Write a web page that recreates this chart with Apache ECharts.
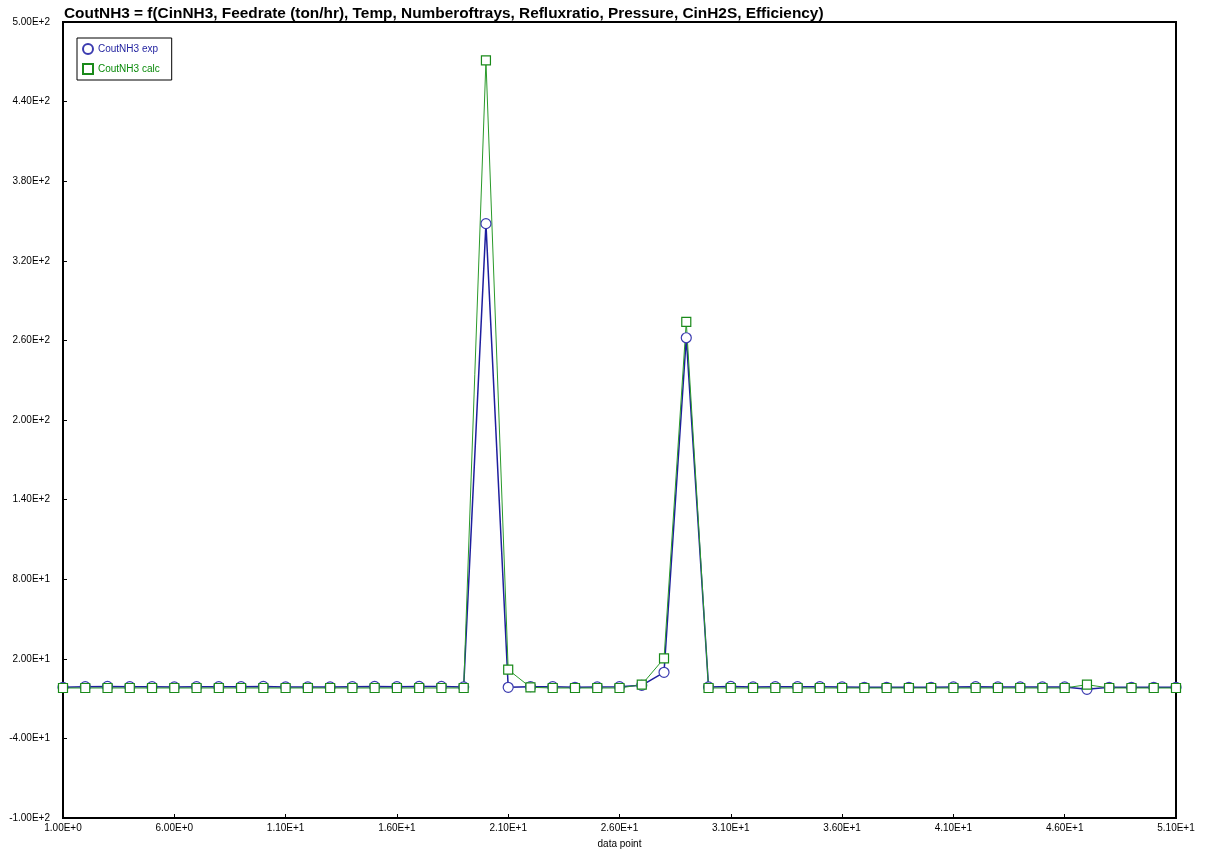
<!DOCTYPE html>
<html>
<head>
<meta charset="UTF-8">
<title>CoutNH3</title>
<script src="https://cdn.jsdelivr.net/npm/echarts@6/dist/echarts.min.js"></script>
<style>
  html, body { margin: 0; padding: 0; background: #fff; }
  #chart { width: 1209px; height: 854px; }
</style>
</head>
<body>
<div id="chart"></div>
<script>
// data point index 1..51
var points = [1,2,3,4,5,6,7,8,9,10,11,12,13,14,15,16,17,18,19,20,21,22,23,24,25,26,
  27,28,29,30,31,32,33,34,35,36,37,38,39,40,41,42,43,44,45,46,47,48,49,50,51];

var expVals = [-1.5,-1.0,-0.8,-1.0,-1.0,-1.2,-1.0,-1.0,-1.0,-0.8,-1.2,-1.2,-1.2,-1.0,-0.8,-1.0,-0.8,-0.8,-1.2,348,
  -1.5,-1.0,-1.0,-1.5,-1.2,-1.0,0.0,9.8,262,-1.2,-0.8,-1.2,-1.0,-1.0,-1.0,-1.2,-1.5,-1.5,-1.5,-1.5,-1.2,
  -1.0,-1.2,-1.2,-1.2,-1.2,-3.0,-1.5,-1.5,-1.5,-1.5];

var calcVals = [-2,-2,-2,-2,-2,-2,-2,-2,-2,-2,-2,-2,-2,-2,-2,-2,-2,-2,-2,471,
  11.8,-1.5,-2,-2,-2,-2,0.5,20.3,274,-2,-2,-2,-2,-2,-2,-2,-2,-2,-2,-2,-2,
  -2,-2,-2,-2,-2,0.5,-2,-2,-2,-2];

var xTicks = {min: 1, max: 51, step: 5};
var yTicks = {min: -100, max: 500, step: 60};

function sci(v){
  return v.toExponential(2).toUpperCase();
}

var chart = echarts.init(document.getElementById('chart'));
var option = {
  backgroundColor: '#fff',
  animation: false,
  title: {
    text: 'CoutNH3 = f(CinNH3, Feedrate (ton/hr), Temp, Numberoftrays, Refluxratio, Pressure, CinH2S, Efficiency)',
    left: 59,
    top: 1,
    textStyle: {fontFamily: 'Liberation Sans', fontSize: 15.4, fontWeight: 'bold', color: '#000'}
  },
  legend: {
    orient: 'vertical',
    left: 77,
    top: 38,
    padding: [5, 12, 5, 5],
    itemGap: 8,
    itemWidth: 10,
    itemHeight: 10,
    borderColor: '#000',
    borderWidth: 1,
    backgroundColor: '#fff',
    textStyle: {fontFamily: 'Liberation Sans', fontSize: 10},
    data: [
      {name: 'CoutNH3 exp', icon: 'circle', textStyle: {color: '#1e1e9e'}},
      {name: 'CoutNH3 calc', icon: 'rect', textStyle: {color: '#0a8a0a'}}
    ]
  },
  grid: {
    left: 63, right: 33, top: 22, bottom: 33,
    show: true,
    borderColor: '#000',
    borderWidth: 2
  },
  xAxis: {
    type: 'value',
    min: xTicks.min, max: xTicks.max, interval: xTicks.step,
    name: 'data point',
    nameLocation: 'middle',
    nameGap: 21,
    nameTextStyle: {fontFamily: 'Liberation Sans', fontSize: 10, color: '#000'},
    axisLine: {onZero: false, lineStyle: {color: '#000', width: 2}},
    axisTick: {inside: true, length: 4, lineStyle: {color: '#000'}},
    axisLabel: {formatter: sci, fontFamily: 'Liberation Sans', fontSize: 10, color: '#000', margin: 5},
    splitLine: {show: false}
  },
  yAxis: {
    type: 'value',
    min: yTicks.min, max: yTicks.max, interval: yTicks.step,
    axisLine: {onZero: false, lineStyle: {color: '#000', width: 2}},
    axisTick: {inside: true, length: 4, lineStyle: {color: '#000'}},
    axisLabel: {formatter: sci, fontFamily: 'Liberation Sans', fontSize: 10, color: '#000', margin: 13},
    splitLine: {show: false}
  },
  series: [
    {
      name: 'CoutNH3 exp',
      type: 'line',
      data: points.map(function(p, i){ return [p, expVals[i]]; }),
      symbol: 'circle',
      symbolSize: 10,
      showAllSymbol: true,
      lineStyle: {color: '#1e1e9e', width: 1.5},
      itemStyle: {color: '#fff', borderColor: '#3b3bb0', borderWidth: 1.2}
    },
    {
      name: 'CoutNH3 calc',
      type: 'line',
      data: points.map(function(p, i){ return [p, calcVals[i]]; }),
      symbol: 'rect',
      symbolSize: 9,
      showAllSymbol: true,
      lineStyle: {color: '#2a9a2a', width: 1},
      itemStyle: {color: '#fff', borderColor: '#1a8a1a', borderWidth: 1.2}
    }
  ]
};
chart.setOption(option);
</script>
</body>
</html>
